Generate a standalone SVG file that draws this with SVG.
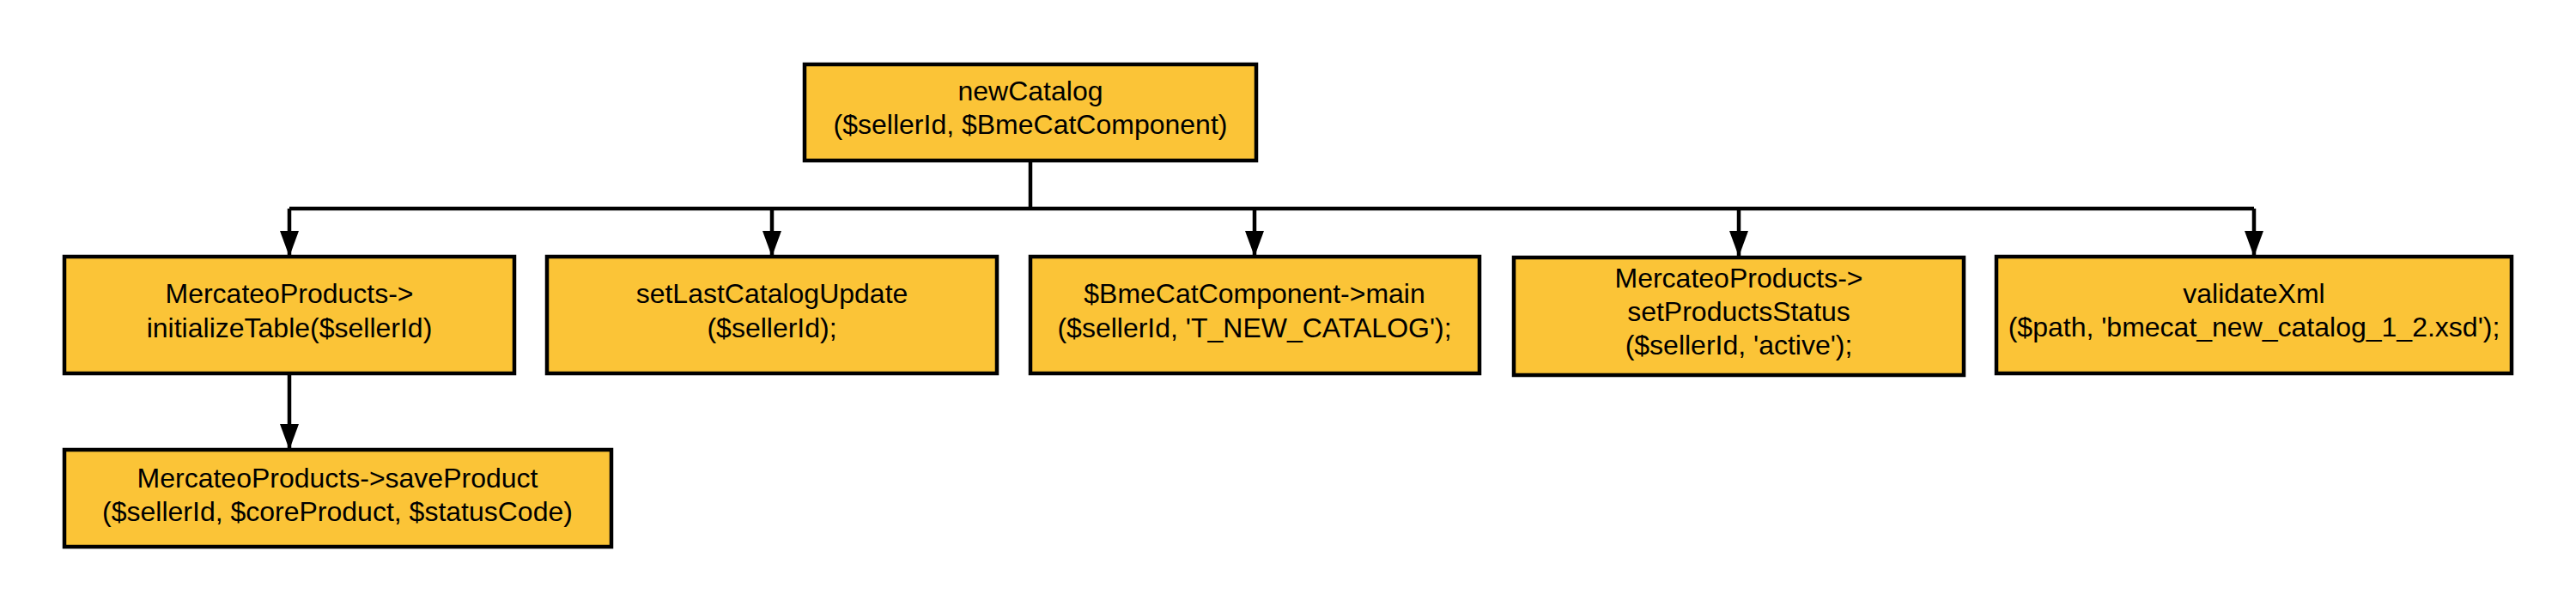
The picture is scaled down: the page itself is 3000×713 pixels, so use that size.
<svg xmlns="http://www.w3.org/2000/svg" width="3000" height="713" viewBox="0 0 3000 713">
<style>
.box{fill:#FBC437;stroke:#000;stroke-width:4.5}
.t{font-family:"Liberation Sans",Arial,sans-serif;font-size:32px;fill:#000;text-anchor:middle}
.c{fill:none;stroke:#000;stroke-width:4.5}
</style>
<defs>
<marker id="arr" markerUnits="userSpaceOnUse" markerWidth="30" markerHeight="22" refX="30" refY="11" orient="auto" viewBox="0 0 30 22">
<path d="M0,0 L30,11 L0,22 Z" fill="#000"/>
</marker>
</defs>
<rect width="3000" height="713" fill="#fff"/>
<g id="connectors">
<path class="c" d="M1200,187 V243"/>
<path class="c" d="M337,243 H2625"/>
<path class="c" d="M337,243 V299" marker-end="url(#arr)"/>
<path class="c" d="M899,243 V299" marker-end="url(#arr)"/>
<path class="c" d="M1461,243 V299" marker-end="url(#arr)"/>
<path class="c" d="M2025,243 V299" marker-end="url(#arr)"/>
<path class="c" d="M2625,243 V299" marker-end="url(#arr)"/>
<path class="c" d="M337,435 V524" marker-end="url(#arr)"/>
</g>
<g id="newCatalog">
<rect class="box" x="937" y="75" width="526" height="112"/>
<text class="t" x="1200" y="117">newCatalog</text>
<text class="t" x="1200" y="156">($sellerId, $BmeCatComponent)</text>
</g>
<g id="initializeTable">
<rect class="box" x="75" y="299" width="524" height="136"/>
<text class="t" x="337" y="353">MercateoProducts-&gt;</text>
<text class="t" x="337" y="393">initializeTable($sellerId)</text>
</g>
<g id="setLastCatalogUpdate">
<rect class="box" x="637" y="299" width="524" height="136"/>
<text class="t" x="899" y="353">setLastCatalogUpdate</text>
<text class="t" x="899" y="393">($sellerId);</text>
</g>
<g id="bmeCatMain">
<rect class="box" x="1200" y="299" width="523" height="136"/>
<text class="t" x="1461" y="353">$BmeCatComponent-&gt;main</text>
<text class="t" x="1461" y="393">($sellerId, 'T_NEW_CATALOG');</text>
</g>
<g id="setProductsStatus">
<rect class="box" x="1763" y="300" width="524" height="137"/>
<text class="t" x="2025" y="335">MercateoProducts-&gt;</text>
<text class="t" x="2025" y="374">setProductsStatus</text>
<text class="t" x="2025" y="413">($sellerId, 'active');</text>
</g>
<g id="validateXml">
<rect class="box" x="2325" y="299" width="600" height="136"/>
<text class="t" x="2625" y="353">validateXml</text>
<text class="t" x="2625" y="392">($path, 'bmecat_new_catalog_1_2.xsd');</text>
</g>
<g id="saveProduct">
<rect class="box" x="75" y="524" width="637" height="113"/>
<text class="t" x="393" y="568">MercateoProducts-&gt;saveProduct</text>
<text class="t" x="393" y="607">($sellerId, $coreProduct, $statusCode)</text>
</g>
</svg>
